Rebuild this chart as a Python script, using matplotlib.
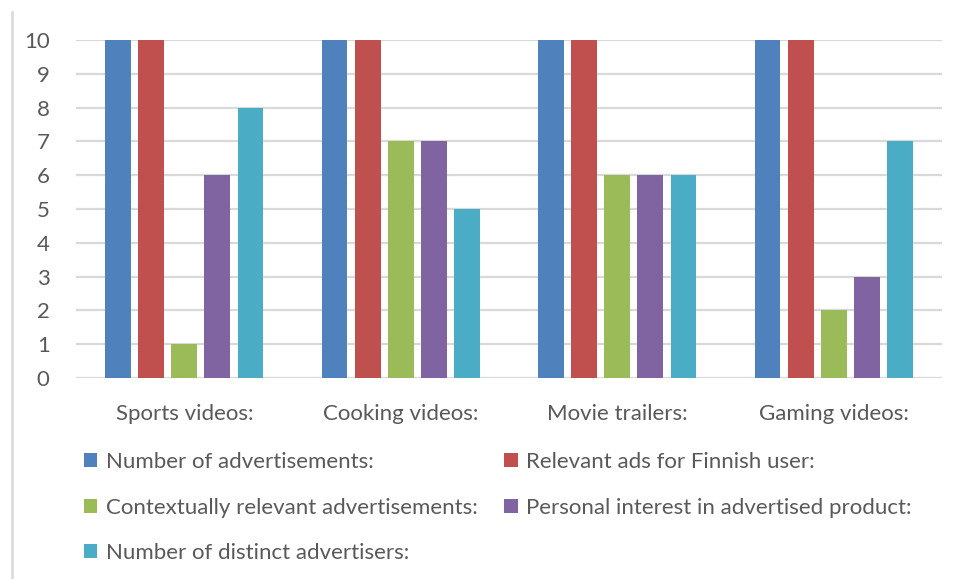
import numpy as np
import matplotlib.pyplot as plt
from matplotlib.lines import Line2D

plt.rcParams['font.family'] = ['Lato', 'DejaVu Sans']

# video categories on the x axis
categories = ["Sports videos:", "Cooking videos:", "Movie trailers:", "Gaming videos:"]

# one list per series, in category order
series_names = [
    "Number of advertisements:",
    "Relevant ads for Finnish user:",
    "Contextually relevant advertisements:",
    "Personal interest in advertised product:",
    "Number of distinct advertisers:",
]
num_ads = [10, 10, 10, 10]
relevant_finnish = [10, 10, 10, 10]
contextual = [1, 7, 6, 2]
personal_interest = [6, 7, 6, 3]
distinct_advertisers = [8, 5, 6, 7]

colors = ["#4F81BD", "#C0504D", "#9BBB59", "#8064A2", "#4BACC6"]
text_color = "#595959"
grid_color = "#D9D9D9"
fs = 16

fig = plt.figure(figsize=(9.6, 5.79), dpi=100)
ax = fig.add_axes([76 / 960, 1 - 378 / 579, 866 / 960, 338 / 579])

x = np.arange(len(categories))
step = 0.153
width = 0.12
all_series = [num_ads, relevant_finnish, contextual, personal_interest, distinct_advertisers]
handles = []
for i, (vals, name, col) in enumerate(zip(all_series, series_names, colors)):
    b = ax.bar(x + (i - 2) * step, vals, width, color=col, label=name, zorder=3)
    handles.append(b)

ax.set_xlim(-0.5, len(categories) - 0.5)
ax.set_ylim(0, 10)
ax.set_yticks(range(0, 11))
ax.set_xticks(x)
ax.set_xticklabels(categories)
ax.tick_params(axis='both', length=0, colors=text_color, labelsize=fs)
ax.tick_params(axis='y', pad=19)
ax.tick_params(axis='x', pad=19)
ax.grid(axis='y', color=grid_color, linewidth=1.6, zorder=0)
for s in ax.spines.values():
    s.set_visible(False)

# legend laid out row by row: reorder for matplotlib's column-first filling
order = [0, 2, 4, 1, 3]
leg = fig.legend([handles[k] for k in order], [series_names[k] for k in order],
                 ncol=2, loc='upper left', bbox_to_anchor=(84 / 960, 1 - 452 / 579),
                 frameon=False, fontsize=fs, handlelength=0.6, handleheight=0.6,
                 handletextpad=0.38, columnspacing=1.2, labelspacing=1.15,
                 borderaxespad=0, borderpad=0)
for t in leg.get_texts():
    t.set_color(text_color)

# thin frame line on the left of the chart area
fig.add_artist(Line2D([12 / 960, 12 / 960], [0, 1 - 12 / 579],
                      transform=fig.transFigure, color=grid_color, lw=1.8))

fig.savefig("out.png", dpi=100)
